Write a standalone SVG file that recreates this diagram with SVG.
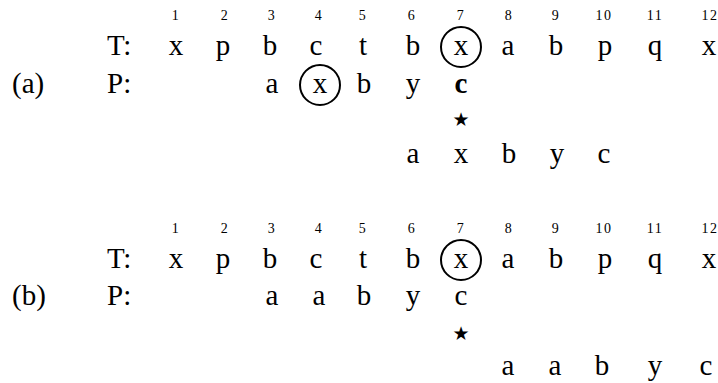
<svg xmlns="http://www.w3.org/2000/svg" width="718" height="383" viewBox="0 0 718 383">
  <style>
    .ch { font-size: 29px; text-anchor: middle; }
    .lbl { font-size: 29px; }
    .num { font-size: 14px; text-anchor: middle; letter-spacing: 1.5px; }
    .bold { font-weight: bold; }
    .star { font-size: 19px; text-anchor: middle; }
    .ring { fill: none; stroke: #000; stroke-width: 2; }
  </style>

  <g font-family="Liberation Serif, Times New Roman, serif" fill="#000">
  <!-- (a) -->
  <g id="part-a">
    <g id="a-index">
      <text class="num" x="176" y="20">1</text>
      <text class="num" x="225" y="20">2</text>
      <text class="num" x="272" y="20">3</text>
      <text class="num" x="319" y="20">4</text>
      <text class="num" x="363" y="20">5</text>
      <text class="num" x="412" y="20">6</text>
      <text class="num" x="461" y="20">7</text>
      <text class="num" x="509" y="20">8</text>
      <text class="num" x="556" y="20">9</text>
      <text class="num" x="604" y="20">10</text>
      <text class="num" x="655" y="20">11</text>
      <text class="num" x="710" y="20">12</text>
    </g>
    <g id="a-text">
      <text class="lbl" x="107" y="55">T:</text>
      <text class="ch" x="176" y="55">x</text>
      <text class="ch" x="223" y="55">p</text>
      <text class="ch" x="270" y="55">b</text>
      <text class="ch" x="316" y="55">c</text>
      <text class="ch" x="363" y="55">t</text>
      <text class="ch" x="413" y="55">b</text>
      <text class="ch" x="461" y="55">x</text>
      <text class="ch" x="508" y="55">a</text>
      <text class="ch" x="556" y="55">b</text>
      <text class="ch" x="605" y="55">p</text>
      <text class="ch" x="655" y="55">q</text>
      <text class="ch" x="709" y="55">x</text>
      <circle class="ring" cx="461" cy="47" r="20"/>
    </g>
    <g id="a-pattern">
      <text class="lbl" x="12" y="93">(a)</text>
      <text class="lbl" x="107" y="93">P:</text>
      <text class="ch" x="272" y="93">a</text>
      <text class="ch" x="320" y="93">x</text>
      <circle class="ring" cx="320" cy="85" r="20"/>
      <text class="ch" x="364" y="93">b</text>
      <text class="ch" x="413" y="93">y</text>
      <text class="ch bold" x="461" y="93">c</text>
    </g>
    <text class="star" font-family="DejaVu Sans, sans-serif" x="461" y="126">★</text>
    <g id="a-shifted">
      <text class="ch" x="413" y="163">a</text>
      <text class="ch" x="461" y="163">x</text>
      <text class="ch" x="509" y="163">b</text>
      <text class="ch" x="557" y="163">y</text>
      <text class="ch" x="604" y="163">c</text>
    </g>
  </g>

  <!-- (b) -->
  <g id="part-b">
    <g id="b-index">
      <text class="num" x="176" y="233">1</text>
      <text class="num" x="225" y="233">2</text>
      <text class="num" x="272" y="233">3</text>
      <text class="num" x="319" y="233">4</text>
      <text class="num" x="363" y="233">5</text>
      <text class="num" x="412" y="233">6</text>
      <text class="num" x="461" y="233">7</text>
      <text class="num" x="509" y="233">8</text>
      <text class="num" x="556" y="233">9</text>
      <text class="num" x="604" y="233">10</text>
      <text class="num" x="655" y="233">11</text>
      <text class="num" x="710" y="233">12</text>
    </g>
    <g id="b-text">
      <text class="lbl" x="107" y="268">T:</text>
      <text class="ch" x="176" y="268">x</text>
      <text class="ch" x="223" y="268">p</text>
      <text class="ch" x="270" y="268">b</text>
      <text class="ch" x="316" y="268">c</text>
      <text class="ch" x="363" y="268">t</text>
      <text class="ch" x="413" y="268">b</text>
      <text class="ch" x="461" y="268">x</text>
      <text class="ch" x="508" y="268">a</text>
      <text class="ch" x="556" y="268">b</text>
      <text class="ch" x="605" y="268">p</text>
      <text class="ch" x="655" y="268">q</text>
      <text class="ch" x="709" y="268">x</text>
      <circle class="ring" cx="461" cy="260" r="20"/>
    </g>
    <g id="b-pattern">
      <text class="lbl" x="12" y="305">(b)</text>
      <text class="lbl" x="107" y="305">P:</text>
      <text class="ch" x="272" y="305">a</text>
      <text class="ch" x="319" y="305">a</text>
      <text class="ch" x="364" y="305">b</text>
      <text class="ch" x="413" y="305">y</text>
      <text class="ch" x="461" y="305">c</text>
    </g>
    <text class="star" font-family="DejaVu Sans, sans-serif" x="461" y="340">★</text>
    <g id="b-shifted">
      <text class="ch" x="508" y="375">a</text>
      <text class="ch" x="555" y="375">a</text>
      <text class="ch" x="602" y="375">b</text>
      <text class="ch" x="655" y="375">y</text>
      <text class="ch" x="706" y="375">c</text>
    </g>
  </g>
  </g>
</svg>
